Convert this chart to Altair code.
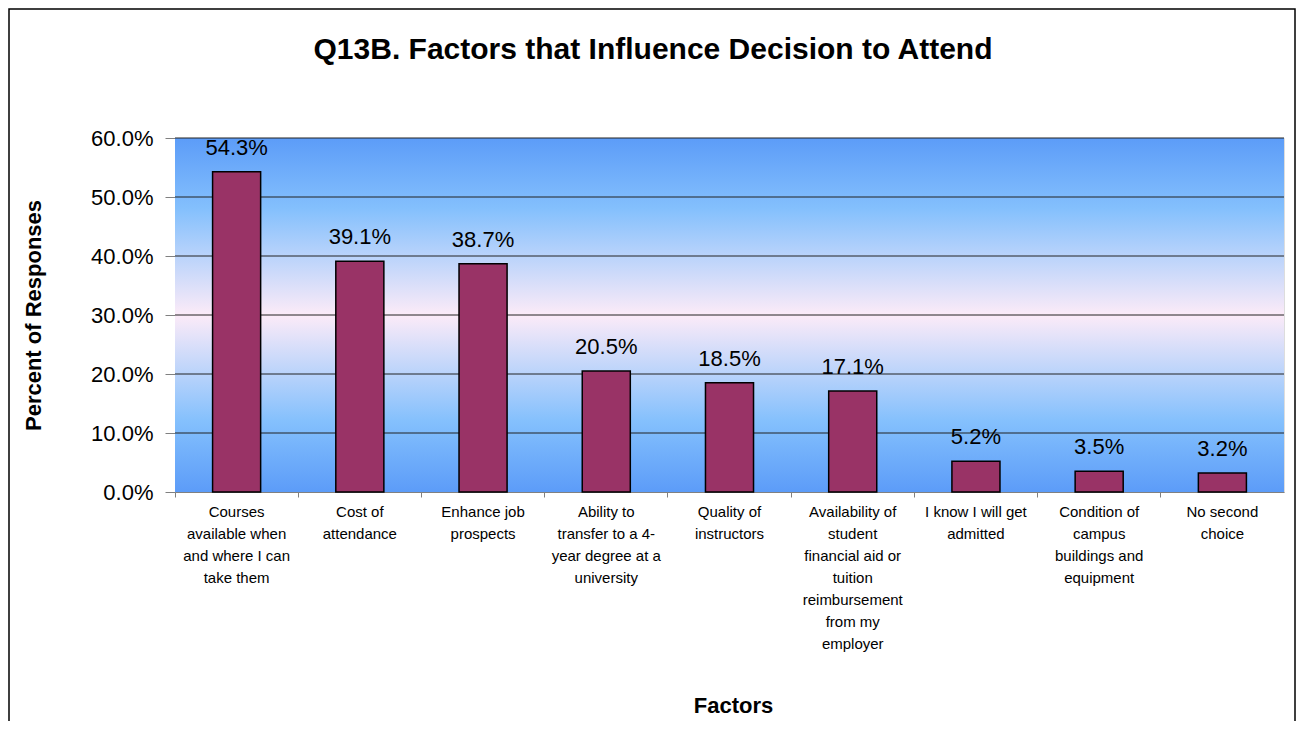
import altair as alt
import pandas as pd

title_text = ["Q13B. Factors that Influence Decision to Attend"]
categories = [
    "Courses\navailable when\nand where I can\ntake them",
    "Cost of\nattendance",
    "Enhance job\nprospects",
    "Ability to\ntransfer to a 4-\nyear degree at a\nuniversity",
    "Quality of\ninstructors",
    "Availability of\nstudent\nfinancial aid or\ntuition\nreimbursement\nfrom my\nemployer",
    "I know I will get\nadmitted",
    "Condition of\ncampus\nbuildings and\nequipment",
    "No second\nchoice",
]
values = [54.3, 39.1, 38.7, 20.5, 18.5, 17.1, 5.2, 3.5, 3.2]
y_ticks = [0, 10, 20, 30, 40, 50, 60]

df = pd.DataFrame({"factor": categories, "pct": values})
df["label"] = [f"{v:.1f}%" for v in values]
grid_df = pd.DataFrame({"v": y_ticks[1:]})
title_df = pd.DataFrame({"t": title_text})

W, H = 1109, 354
FONT = "Liberation Sans, Arial, sans-serif"

x_enc = alt.X(
    "factor:N",
    sort=categories,
    scale=alt.Scale(paddingInner=0, paddingOuter=0),
    axis=alt.Axis(
        title="Factors",
        titleFont=FONT, titleFontSize=22, titleFontWeight="bold", titleColor="#000",
        titleX=558, titleY=220, titleBaseline="alphabetic",
        labelExpr="split(datum.label, '\\n')",
        labelFont=FONT, labelFontSize=15, labelColor="#000",
        labelLineHeight=22, labelAngle=0, labelLimit=300,
        labelBaseline="top", labelPadding=7,
        bandPosition=0,
        tickSize=5, tickColor="#808080", domainColor="#808080",
        grid=False,
    ),
)
y_scale = alt.Scale(domain=[0, 60])
y_enc = alt.Y(
    "pct:Q",
    scale=y_scale,
    axis=alt.Axis(
        title="Percent of Responses",
        titleFont=FONT, titleFontSize=22, titleFontWeight="bold", titleColor="#000",
        titleX=-142, titleY=H / 2, titleBaseline="middle", titleAlign="center", titleAngle=-90,
        values=y_ticks,
        labelExpr="format(datum.value, '.1f') + '%'",
        labelFont=FONT, labelFontSize=22, labelColor="#000", labelPadding=12,
        tickSize=10, tickColor="#808080", domainColor="#808080",
        grid=False,
    ),
)

gradient = {
    "gradient": "linear", "x1": 0, "y1": 0, "x2": 0, "y2": 1,
    "stops": [
        {"offset": 0.0, "color": "#5c9cf8"},
        {"offset": 0.2, "color": "#84c0fd"},
        {"offset": 0.5, "color": "#fcebf8"},
        {"offset": 0.8, "color": "#84c0fd"},
        {"offset": 1.0, "color": "#5c9cf8"},
    ],
}

bg = alt.Chart(pd.DataFrame({"a": [0]})).mark_rect(color=gradient).encode(
    x=alt.value(0), x2=alt.value(W), y=alt.value(0), y2=alt.value(H)
)

frame = alt.Chart(pd.DataFrame({"a": [0]})).mark_rect(
    fill="white", fillOpacity=0, stroke="#000", strokeWidth=1.5
).encode(
    x=alt.value(-166), x2=alt.value(W + 11), y=alt.value(-129), y2=alt.value(H + 400)
)

title = alt.Chart(title_df).mark_text(
    font=FONT, fontSize=30, fontWeight="bold", color="#000",
    align="center", baseline="alphabetic"
).encode(x=alt.value(478), y=alt.value(-79), text="t:N")

grid = alt.Chart(grid_df).mark_rule(color="#222", strokeWidth=1).encode(
    y=alt.Y("v:Q", scale=y_scale), x=alt.value(0), x2=alt.value(W)
)

base = alt.Chart(df)
bars = base.mark_bar(
    color="#993366", stroke="#000", strokeWidth=1.5, width=alt.RelativeBandSize(0.39)
).encode(x=x_enc, y=y_enc)

texts = base.mark_text(
    font=FONT, fontSize=22, color="#000", baseline="alphabetic", dy=-17
).encode(x=alt.X("factor:N", sort=categories), y="pct:Q", text="label:N")

chart = (
    alt.layer(frame, title, bg, grid, bars, texts)
    .properties(
        width=W, height=H,
        autosize=alt.AutoSizeParams(type="none"),
        padding={"left": 167, "top": 130, "right": 12, "bottom": 229},
    )
    .configure_view(stroke="#808080", strokeWidth=1.5)
    .configure(background="white")
)

chart.save("out.html", embed_options={"renderer": "svg", "actions": False})
